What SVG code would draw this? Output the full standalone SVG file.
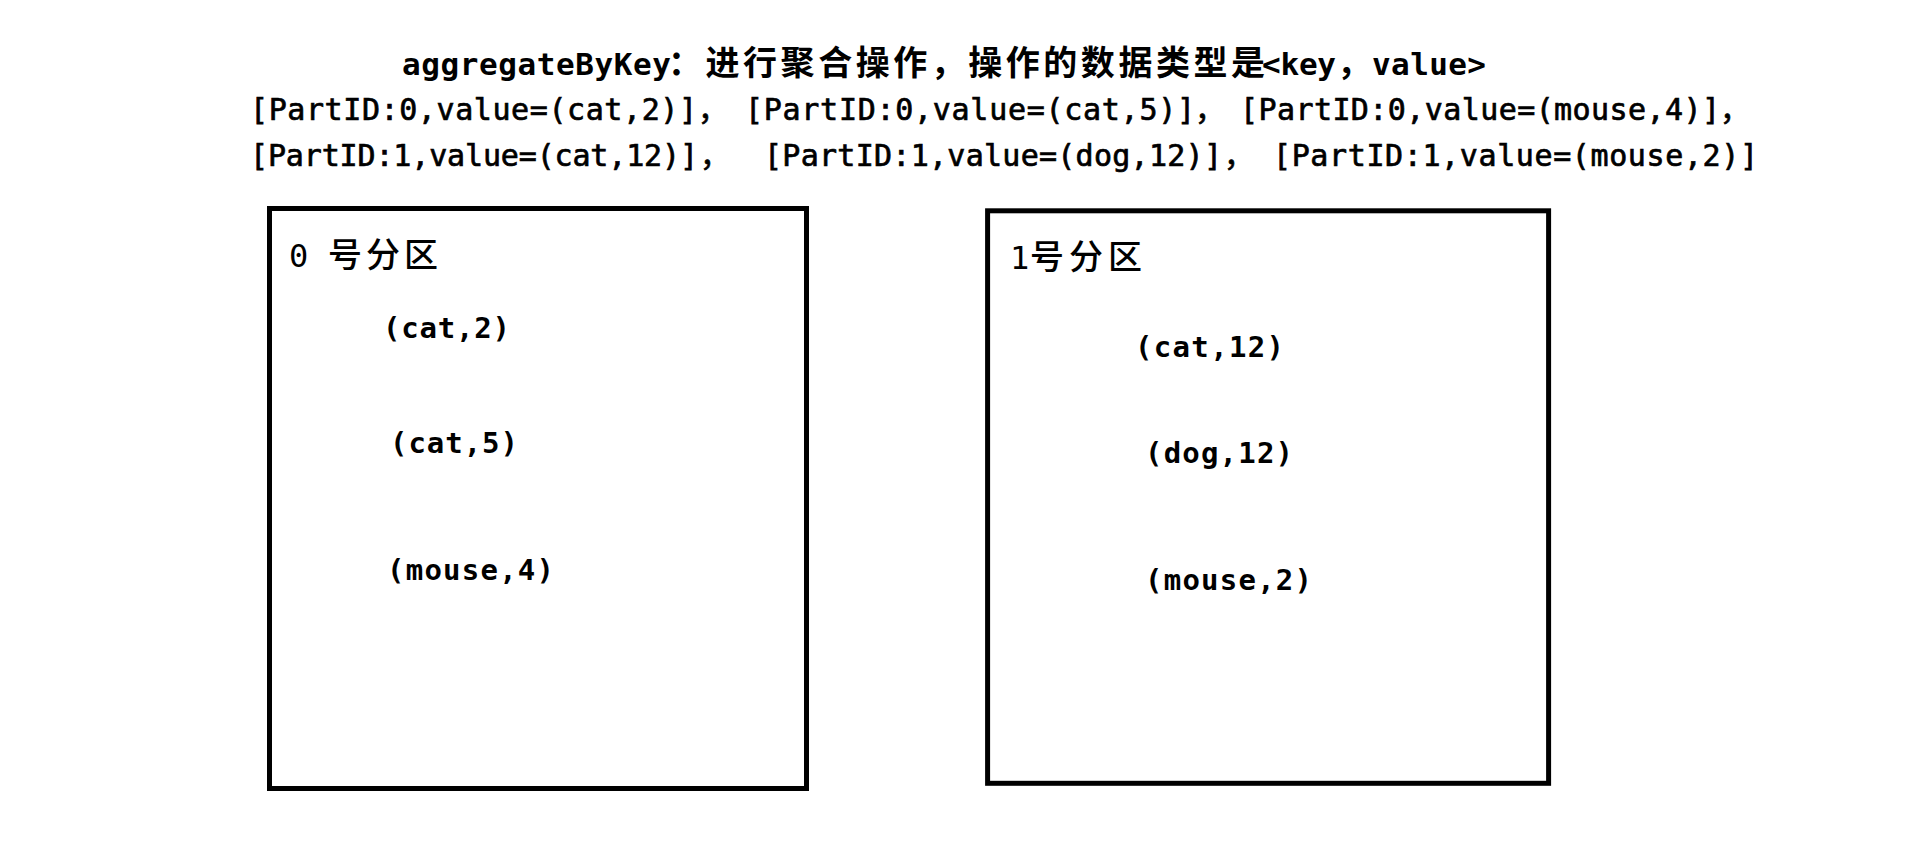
<svg xmlns="http://www.w3.org/2000/svg" width="1905" height="853" viewBox="0 0 1905 853">
<style>
.mono{font-family:"DejaVu Sans Mono","Liberation Mono","Noto Sans CJK SC",monospace;fill:#000}
.cjk{font-family:"Noto Sans CJK SC","DejaVu Sans Mono",sans-serif;fill:#000}
.title{font-size:31px;font-weight:bold}
.titlecjk{font-size:34px;font-weight:bold}
.line{font-size:30px;stroke:#000;stroke-width:0.7}
.lbl{font-size:32px;font-weight:500}
.lblcjk{font-size:34px}
.val{font-size:29px;font-weight:bold}
.box{fill:#fff;stroke:#000;stroke-width:5}
</style>
<rect width="1905" height="853" fill="#fff"/>
<g id="header">
<text y="75"><tspan class="mono title" x="402" textLength="269" lengthAdjust="spacing">aggregateByKey</tspan><tspan class="cjk titlecjk" x="668" textLength="597" lengthAdjust="spacing">：进行聚合操作，操作的数据类型是</tspan><tspan class="mono title" x="1262" textLength="74" lengthAdjust="spacing">&lt;key</tspan><tspan class="cjk titlecjk" x="1337">，</tspan><tspan class="mono title" x="1372" textLength="114" lengthAdjust="spacing">value&gt;</tspan></text>
<text y="120" class="line"><tspan class="mono" x="250" textLength="447" lengthAdjust="spacing">[PartID:0,value=(cat,2)]</tspan><tspan class="cjk" x="698">， </tspan><tspan class="mono" x="745" textLength="450" lengthAdjust="spacing">[PartID:0,value=(cat,5)]</tspan><tspan class="cjk" x="1195">， </tspan><tspan class="mono" x="1240" textLength="480" lengthAdjust="spacing">[PartID:0,value=(mouse,4)]</tspan><tspan class="cjk" x="1720">，</tspan></text>
<text y="166" class="line"><tspan class="mono" x="250" textLength="448" lengthAdjust="spacing">[PartID:1,value=(cat,12)]</tspan><tspan class="cjk" x="700">， </tspan><tspan class="mono" x="764" textLength="458" lengthAdjust="spacing">[PartID:1,value=(dog,12)]</tspan><tspan class="cjk" x="1224">， </tspan><tspan class="mono" x="1273" textLength="485" lengthAdjust="spacing">[PartID:1,value=(mouse,2)]</tspan></text>
</g>
<g id="partition0">
<rect class="box" x="269.5" y="208.5" width="537" height="580"/>
<text y="267" class="lbl"><tspan class="mono" x="289">0 </tspan><tspan class="cjk lblcjk" x="328" textLength="110" lengthAdjust="spacing">号分区</tspan></text>
<text class="mono val" x="383" y="338" textLength="127" lengthAdjust="spacing">(cat,2)</text>
<text class="mono val" x="390" y="453" textLength="128" lengthAdjust="spacing">(cat,5)</text>
<text class="mono val" x="387" y="580" textLength="167" lengthAdjust="spacing">(mouse,4)</text>
</g>
<g id="partition1">
<rect class="box" x="987.6" y="210.8" width="561" height="572.5"/>
<text y="269" class="lbl"><tspan class="mono" x="1010">1</tspan><tspan class="cjk lblcjk" x="1030" textLength="112" lengthAdjust="spacing">号分区</tspan></text>
<text class="mono val" x="1135" y="357" textLength="149" lengthAdjust="spacing">(cat,12)</text>
<text class="mono val" x="1145" y="463" textLength="148" lengthAdjust="spacing">(dog,12)</text>
<text class="mono val" x="1145" y="590" textLength="167" lengthAdjust="spacing">(mouse,2)</text>
</g>
<g id="connectors"></g>
</svg>
